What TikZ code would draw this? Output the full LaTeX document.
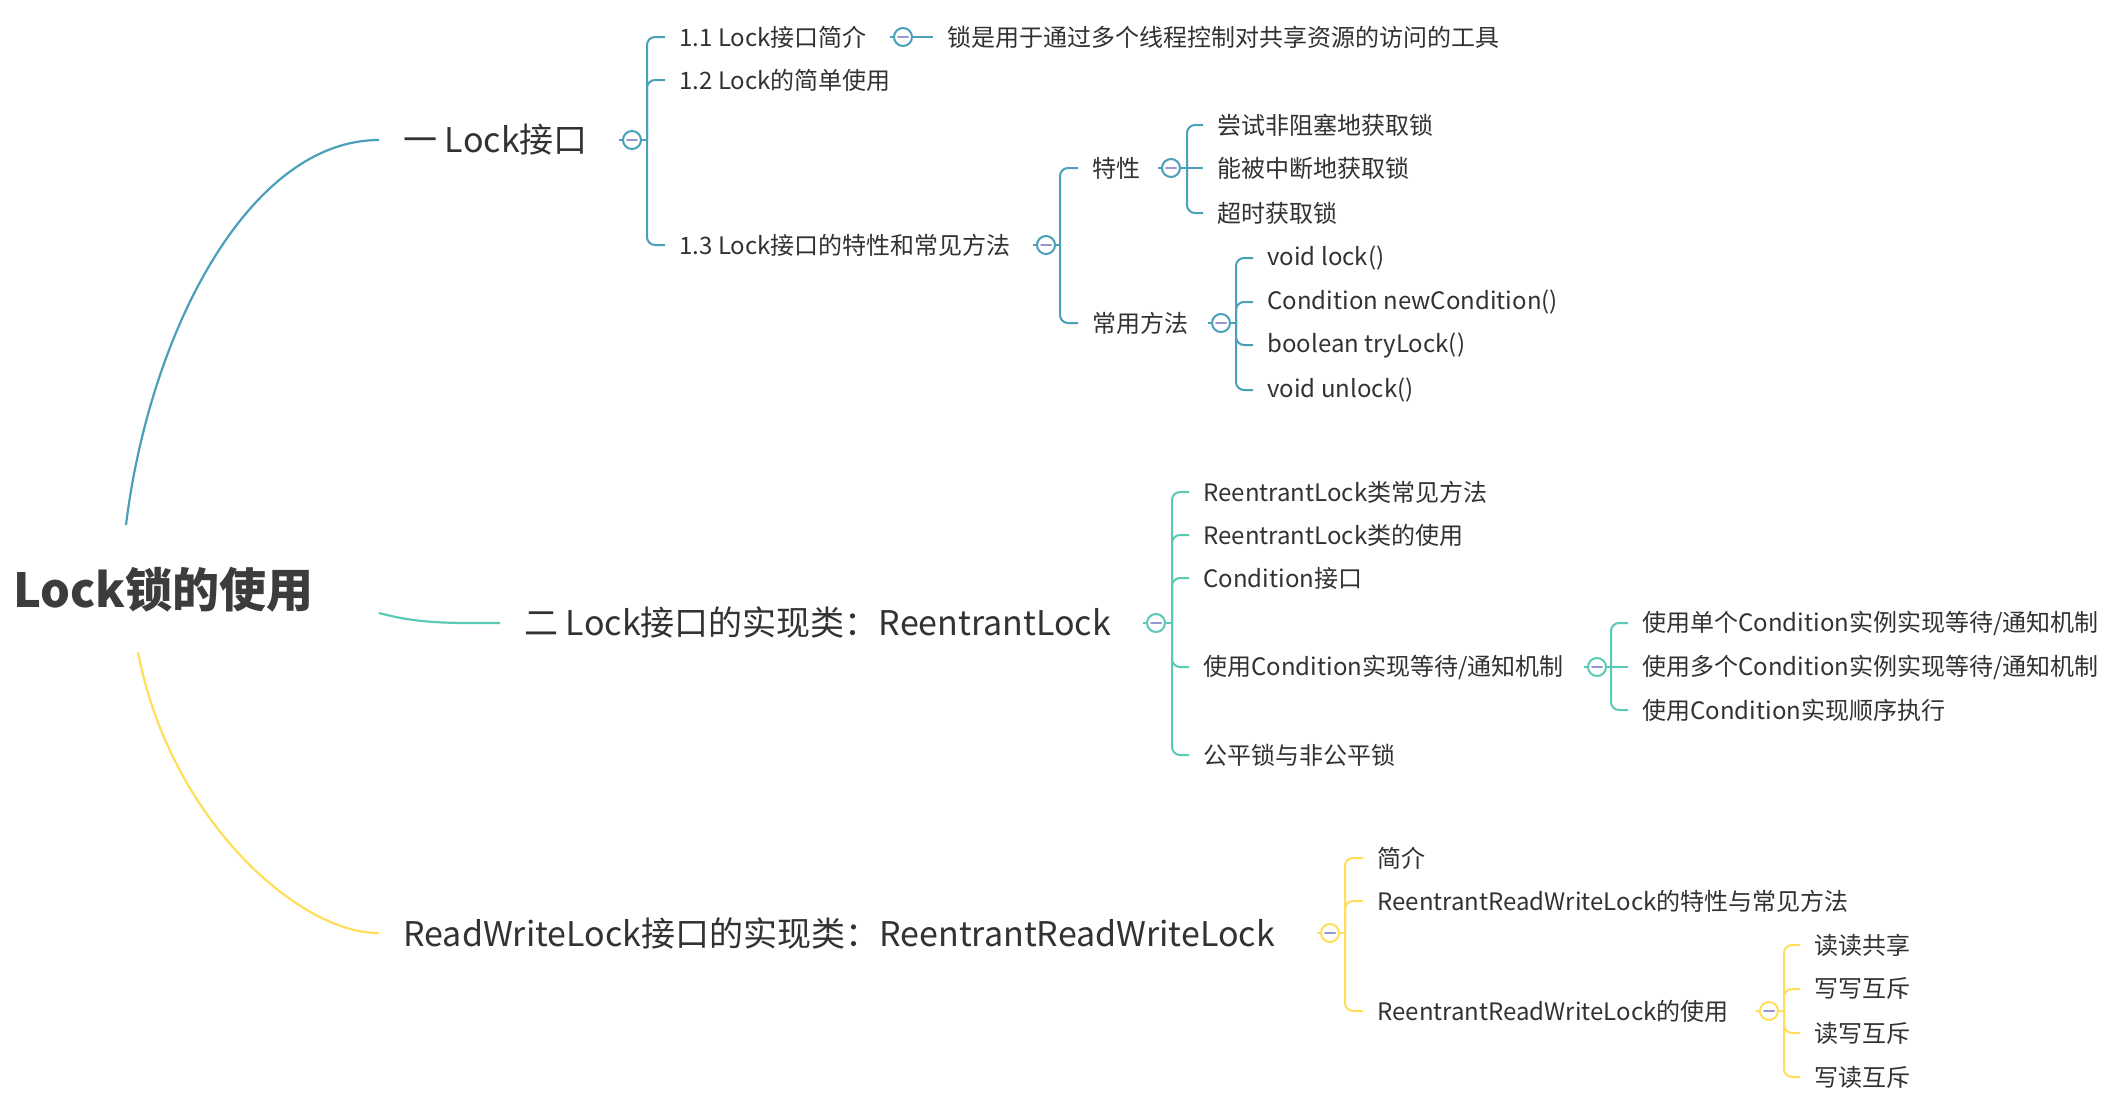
\documentclass[tikz,border=0pt]{standalone}
\usepackage{fontspec}
\setmainfont{Noto Sans CJK SC}
\definecolor{bA}{RGB}{75,160,185}
\definecolor{bB}{RGB}{90,202,182}
\definecolor{bC}{RGB}{255,222,90}
\definecolor{minusc}{RGB}{150,150,210}
\definecolor{txtc}{RGB}{50,50,50}
\definecolor{rootc}{RGB}{60,60,60}
\tikzset{
  txt/.style={anchor=west, inner xsep=7pt, inner ysep=2pt, text=txtc, font=\fontsize{12}{14}\selectfont},
  mainst/.style={anchor=west, inner xsep=12pt, inner ysep=2pt, text=txtc, font=\fontsize{17}{20}\selectfont},
  rootst/.style={anchor=west, inner sep=0pt, text=rootc, font=\fontsize{23.5}{28}\selectfont\bfseries},
  fold/.style={circle, draw=#1, fill=white, line width=1pt, minimum size=9pt, inner sep=0pt},
  br/.style={draw=#1, line width=1pt, rounded corners=4pt},
  conn/.style={draw=#1, line width=1.1pt},
  minusmk/.style={draw=minusc, line width=1pt, line cap=round},
}
\newcommand{\foldmk}[2]{%
  \draw[minusmk] ([xshift=-2.5pt]#1.center) -- ([xshift=2.5pt]#1.center);
  \draw[br=#2] (#1.west) -- ++(-3,0);
}
\begin{document}
\begin{tikzpicture}[x=0.5pt,y=-0.5pt]
\useasboundingbox[fill=white] (0,0) rectangle (2106,1110);

% root
\node[rootst] (root) at (13,590) {Lock锁的使用};
\coordinate (r1) at (126,525);
\coordinate (r2) at (379,613);
\coordinate (r3) at (138,652);

% main branches
\node[mainst] (m1) at (379,140) {一 Lock接口};
\node[mainst] (m2) at (500,623) {二 Lock接口的实现类：ReentrantLock};
\node[mainst] (m3) at (379,933) {ReadWriteLock接口的实现类：ReentrantReadWriteLock};

\draw[conn=bA] (r1) .. controls (150,330) and (250,140) .. (m1.west);
\draw[conn=bB] (r2) .. controls (420,624) and (450,623) .. (m2.west);
\draw[conn=bC] (r3) .. controls (170,820) and (300,934) .. (m3.west);

% ---------- branch 1 ----------
\node[fold=bA] (c1) at (632,140) {};
\node[txt] (n11) at (665,37) {1.1 Lock接口简介};
\node[txt] (n12) at (665,80) {1.2 Lock的简单使用};
\node[txt] (n13) at (665,245) {1.3 Lock接口的特性和常见方法};
\coordinate (j1) at (647,140);
\draw[br=bA] (c1.east) -- (j1);
\foreach \n in {n11,n12,n13} \draw[br=bA] (j1) |- (\n.west);
\foldmk{c1}{bA}

\node[fold=bA] (c11) at (903,37) {};
\node[txt] (n111) at (933,37) {锁是用于通过多个线程控制对共享资源的访问的工具};
\draw[br=bA] (c11.east) -- (n111.west);
\foldmk{c11}{bA}

\node[fold=bA] (c13) at (1046,245) {};
\node[txt] (n131) at (1078,168) {特性};
\node[txt] (n132) at (1078,323) {常用方法};
\coordinate (j13) at (1060,245);
\draw[br=bA] (c13.east) -- (j13);
\foreach \n in {n131,n132} \draw[br=bA] (j13) |- (\n.west);
\foldmk{c13}{bA}

\node[fold=bA] (c131) at (1171,168) {};
\node[txt] (p1) at (1203,125) {尝试非阻塞地获取锁};
\node[txt] (p2) at (1203,168) {能被中断地获取锁};
\node[txt] (p3) at (1203,213) {超时获取锁};
\coordinate (j131) at (1187,168);
\draw[br=bA] (c131.east) -- (p2.west);
\foreach \n in {p1,p3} \draw[br=bA] (j131) |- (\n.west);
\foldmk{c131}{bA}

\node[fold=bA] (c132) at (1221,323) {};
\node[txt] (q1) at (1253,258) {void lock()};
\node[txt] (q2) at (1253,302) {Condition newCondition()};
\node[txt] (q3) at (1253,345) {boolean tryLock()};
\node[txt] (q4) at (1253,390) {void unlock()};
\coordinate (j132) at (1236,323);
\draw[br=bA] (c132.east) -- (j132);
\foreach \n in {q1,q2,q3,q4} \draw[br=bA] (j132) |- (\n.west);
\foldmk{c132}{bA}

% ---------- branch 2 ----------
\node[fold=bB] (c2) at (1156,623) {};
\node[txt] (s1) at (1189,492) {ReentrantLock类常见方法};
\node[txt] (s2) at (1189,535) {ReentrantLock类的使用};
\node[txt] (s3) at (1189,578) {Condition接口};
\node[txt] (s4) at (1189,667) {使用Condition实现等待/通知机制};
\node[txt] (s5) at (1189,755) {公平锁与非公平锁};
\coordinate (j2) at (1172,623);
\draw[br=bB] (c2.east) -- (j2);
\foreach \n in {s1,s2,s3,s4,s5} \draw[br=bB] (j2) |- (\n.west);
\foldmk{c2}{bB}

\node[fold=bB] (c24) at (1597,667) {};
\node[txt] (t1) at (1628,623) {使用单个Condition实例实现等待/通知机制};
\node[txt] (t2) at (1628,667) {使用多个Condition实例实现等待/通知机制};
\node[txt] (t3) at (1628,710) {使用Condition实现顺序执行};
\coordinate (j24) at (1611,667);
\draw[br=bB] (c24.east) -- (t2.west);
\foreach \n in {t1,t3} \draw[br=bB] (j24) |- (\n.west);
\foldmk{c24}{bB}

% ---------- branch 3 ----------
\node[fold=bC] (c3) at (1330,933) {};
\node[txt] (u1) at (1363,858) {简介};
\node[txt] (u2) at (1363,901) {ReentrantReadWriteLock的特性与常见方法};
\node[txt] (u3) at (1363,1011) {ReentrantReadWriteLock的使用};
\coordinate (j3) at (1345,933);
\draw[br=bC] (c3.east) -- (j3);
\foreach \n in {u1,u2,u3} \draw[br=bC] (j3) |- (\n.west);
\foldmk{c3}{bC}

\node[fold=bC] (c33) at (1769,1011) {};
\node[txt] (v1) at (1800,945) {读读共享};
\node[txt] (v2) at (1800,989) {写写互斥};
\node[txt] (v3) at (1800,1033) {读写互斥};
\node[txt] (v4) at (1800,1077) {写读互斥};
\coordinate (j33) at (1784,1011);
\draw[br=bC] (c33.east) -- (j33);
\foreach \n in {v1,v2,v3,v4} \draw[br=bC] (j33) |- (\n.west);
\foldmk{c33}{bC}
\end{tikzpicture}
\end{document}
